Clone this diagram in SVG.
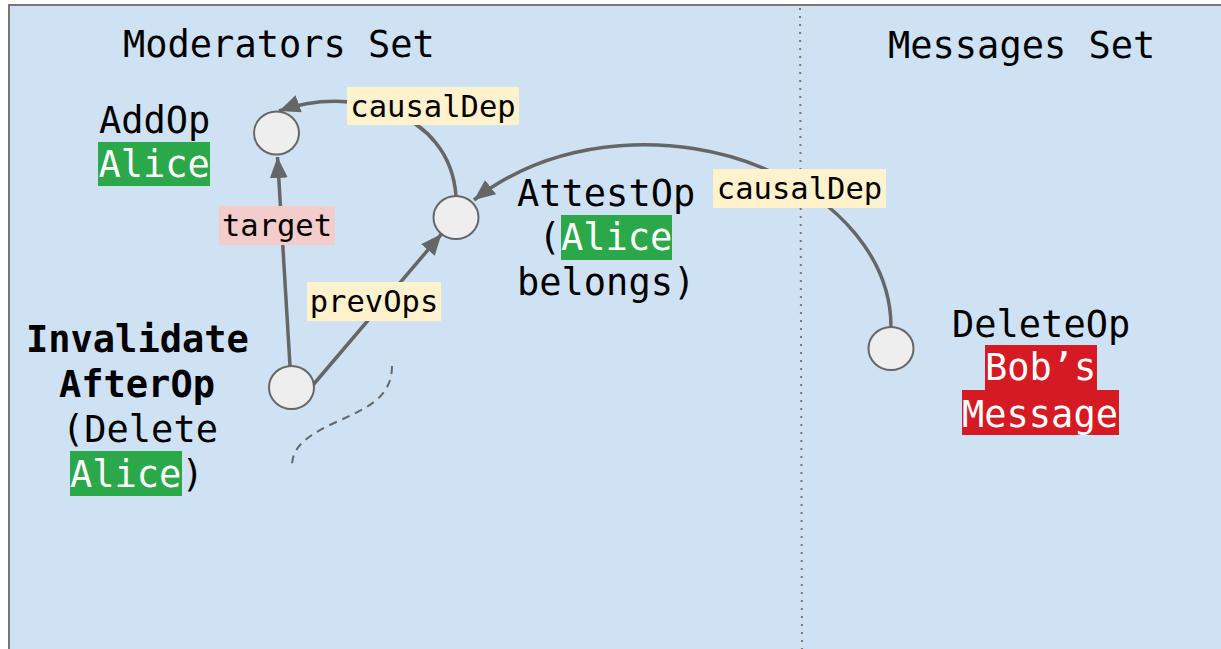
<svg xmlns="http://www.w3.org/2000/svg" width="1221" height="649" viewBox="0 0 1221 649">
<style>
  text { font-family: "DejaVu Sans Mono", "Liberation Mono", monospace; }
  .t { font-size: 37px; fill: #000; }
  .b { font-weight: bold; }
  .w { fill: #fff; }
  .lab { font-size: 30.5px; fill: #000; text-anchor: middle; }
  .conn { fill: none; stroke: #666; stroke-width: 3.5; }
  .node { fill: #eeeeee; stroke: #666; stroke-width: 2; }
  .green { fill: #2aa84a; }
  .red { fill: #d61a24; }
  .yel { fill: #fff2cc; }
  .pink { fill: #f4cccc; }
</style>
<defs>
  <marker id="ah" markerUnits="userSpaceOnUse" markerWidth="22" markerHeight="18" refX="21" refY="9" orient="auto">
    <path d="M0,0 L21,9 L0,18 z" fill="#666"/>
  </marker>
</defs>
<rect x="0" y="0" width="1221" height="649" fill="#ffffff"/>
<rect id="panel" x="9" y="5" width="1230" height="660" fill="#cfe2f3" stroke="#777" stroke-width="2"/>
<line id="divider" x1="800" y1="8" x2="802" y2="649" stroke="#777" stroke-width="2" stroke-dasharray="2 6"/>
<text class="t" x="123" y="57">Moderators Set</text>
<text class="t" x="888" y="58">Messages Set</text>

<g id="connectors">
  <line class="conn" x1="290" y1="366" x2="277.5" y2="157" marker-end="url(#ah)"/>
  <line class="conn" x1="313" y1="385" x2="441.5" y2="234" marker-end="url(#ah)"/>
  <path class="conn" d="M456,196 C450,110 350,85 279,111" marker-end="url(#ah)"/>
  <path class="conn" d="M891,327 C891,260 840,200 763,168 C680,133 560,133 474,200" marker-end="url(#ah)"/>
  <path id="dashed" d="M392,366 C392,400 362,410 332,424 C302,438 292,450 292,466" fill="none" stroke="#666" stroke-width="2" stroke-dasharray="8 6"/>
  <g id="label-causalDep1">
    <rect class="yel" x="347" y="87" width="172" height="38"/>
    <text class="lab" x="433" y="117">causalDep</text>
  </g>
  <g id="label-causalDep2">
    <rect class="yel" x="713" y="169" width="173" height="39"/>
    <text class="lab" x="799.5" y="199">causalDep</text>
  </g>
  <g id="label-target">
    <rect class="pink" x="219" y="206" width="116" height="39"/>
    <text class="lab" x="277" y="236">target</text>
  </g>
  <g id="label-prevOps">
    <rect class="yel" x="307" y="282" width="134" height="39"/>
    <text class="lab" x="374" y="312">prevOps</text>
  </g>
</g>

<g id="node-addop">
  <ellipse class="node" cx="276.5" cy="133" rx="22.5" ry="21.5"/>
  <text class="t" x="99" y="133">AddOp</text>
  <rect class="green" x="98" y="142" width="112" height="44"/>
  <text class="t w" x="98.5" y="177">Alice</text>
</g>

<g id="node-attestop">
  <ellipse class="node" cx="456" cy="217.5" rx="22.5" ry="21.5"/>
  <text class="t" x="517" y="206">AttestOp</text>
  <text class="t" x="538.5" y="250">(</text>
  <rect class="green" x="561" y="215" width="111" height="45"/>
  <text class="t w" x="561" y="250">Alice</text>
  <text class="t" x="517" y="295">belongs)</text>
</g>

<g id="node-invalidate">
  <ellipse class="node" cx="291.5" cy="387.5" rx="22.5" ry="21.5"/>
  <text class="t b" x="26" y="352">Invalidate</text>
  <text class="t b" x="59" y="397">AfterOp</text>
  <text class="t" x="62" y="442">(Delete</text>
  <rect class="green" x="70" y="451" width="112" height="45"/>
  <text class="t w" x="70" y="487">Alice</text>
  <text class="t" x="181.5" y="487">)</text>
</g>

<g id="node-deleteop">
  <ellipse class="node" cx="891" cy="348.5" rx="22.5" ry="21.5"/>
  <text class="t" x="952" y="337">DeleteOp</text>
  <rect class="red" x="985" y="345" width="112" height="46"/>
  <text class="t w" x="985" y="380">Bob’s</text>
  <rect class="red" x="962" y="390" width="157" height="45"/>
  <text class="t w" x="962" y="427">Message</text>
</g>
</svg>
